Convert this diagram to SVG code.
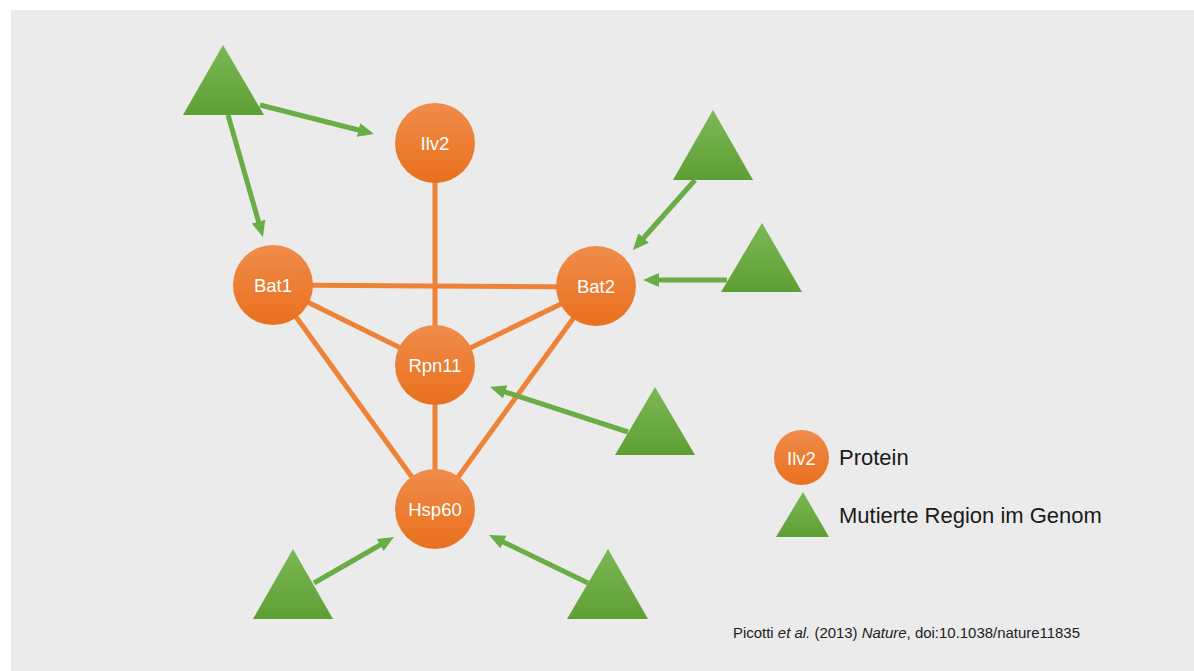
<svg xmlns="http://www.w3.org/2000/svg" width="1194" height="671" viewBox="0 0 1194 671">
<defs>
<linearGradient id="gO" x1="0" y1="0" x2="0" y2="1"><stop offset="0" stop-color="#F08C4C"/><stop offset="1" stop-color="#E9701D"/></linearGradient>
<linearGradient id="gG" x1="0" y1="0" x2="0" y2="1"><stop offset="0" stop-color="#7CB855"/><stop offset="1" stop-color="#5E9F34"/></linearGradient>
<marker id="ah" markerUnits="userSpaceOnUse" markerWidth="16" markerHeight="16" viewBox="0 0 16 16" refX="6" refY="8" orient="auto"><path d="M0,1 L16,8 L0,15 z" fill="#6AAC45"/></marker>
<style>
.edge{stroke:#EE8236;stroke-width:5;fill:none}
.arr{stroke:#6AAC45;stroke-width:5;fill:none;marker-end:url(#ah)}
.node{fill:url(#gO)}
.tri{fill:url(#gG)}
.lbl{font-family:"Liberation Sans",Arial,sans-serif;font-size:18.5px;fill:#FFFFFF;text-anchor:middle}
.leg{font-family:"Liberation Sans",Arial,sans-serif;font-size:22px;fill:#1A1A1A}
.cite{font-family:"Liberation Sans",Arial,sans-serif;font-size:15px;fill:#222222}
</style>
</defs>
<rect x="0" y="0" width="1194" height="671" fill="#FFFFFF"/>
<rect x="11" y="10" width="1183" height="661" fill="#EBEBEB"/>
<g id="edges">
<line class="edge" x1="435" y1="143" x2="435" y2="365"/>
<line class="edge" x1="273" y1="285" x2="596" y2="287"/>
<line class="edge" x1="273" y1="285" x2="435" y2="365"/>
<line class="edge" x1="596" y1="287" x2="435" y2="365"/>
<line class="edge" x1="273" y1="285" x2="435" y2="509"/>
<line class="edge" x1="596" y1="287" x2="435" y2="509"/>
<line class="edge" x1="435" y1="365" x2="435" y2="509"/>
</g>
<g id="arrows">
<line class="arr" x1="260" y1="105" x2="364.3" y2="131.5"/>
<line class="arr" x1="228" y1="115" x2="260.2" y2="227.4"/>
<line class="arr" x1="695" y1="180" x2="639.6" y2="242.5"/>
<line class="arr" x1="727" y1="280" x2="653" y2="280"/>
<line class="arr" x1="628" y1="432" x2="499.5" y2="390.1"/>
<line class="arr" x1="314" y1="583" x2="385.3" y2="542"/>
<line class="arr" x1="588" y1="583" x2="498" y2="539.4"/>
</g>
<g id="Ilv2"><circle class="node" cx="435" cy="143" r="40"/><text class="lbl" x="435" y="149.5">Ilv2</text></g>
<g id="Bat1"><circle class="node" cx="273" cy="285" r="40"/><text class="lbl" x="273" y="291.5">Bat1</text></g>
<g id="Bat2"><circle class="node" cx="596" cy="286" r="40"/><text class="lbl" x="596" y="292.5">Bat2</text></g>
<g id="Rpn11"><circle class="node" cx="435" cy="365" r="40"/><text class="lbl" x="435" y="371.5">Rpn11</text></g>
<g id="Hsp60"><circle class="node" cx="435" cy="509" r="40"/><text class="lbl" x="435" y="515.5">Hsp60</text></g>
<g id="mut1"><polygon class="tri" points="223,45 183,115 264,115"/></g>
<g id="mut2"><polygon class="tri" points="713,110 673,180 753,180"/></g>
<g id="mut3"><polygon class="tri" points="762,223 721,292 802,292"/></g>
<g id="mut4"><polygon class="tri" points="655,387 615,455 695,455"/></g>
<g id="mut5"><polygon class="tri" points="293,549 253,619 333,619"/></g>
<g id="mut6"><polygon class="tri" points="608,549 567,619 648,619"/></g>
<g id="legend">
<circle class="node" cx="801.5" cy="457.5" r="27.5"/>
<text class="lbl" x="801.5" y="465">Ilv2</text>
<text class="leg" x="839" y="465">Protein</text>
<polygon class="tri" points="803,492 776,537 829,537"/>
<text class="leg" x="839" y="523">Mutierte Region im Genom</text>
</g>
<text class="cite" x="733" y="638" textLength="347" lengthAdjust="spacingAndGlyphs">Picotti <tspan font-style="italic">et al.</tspan> (2013) <tspan font-style="italic">Nature</tspan>, doi:10.1038/nature11835</text>
</svg>
